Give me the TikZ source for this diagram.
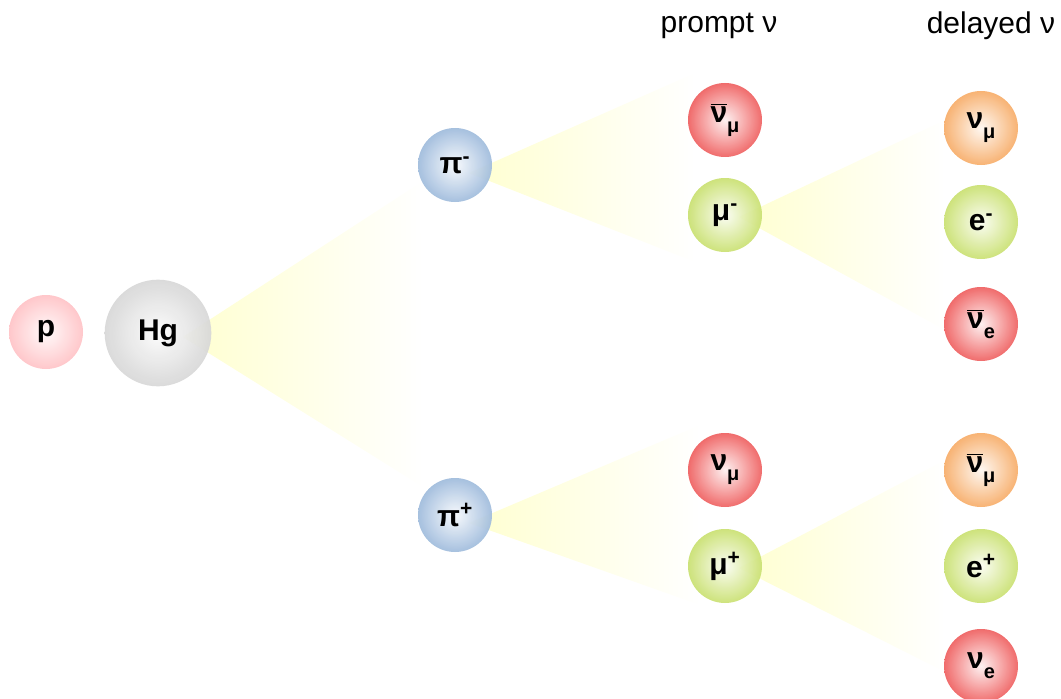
\documentclass[tikz,border=0pt]{standalone}
\usepackage{fontspec}
\setmainfont{Liberation Sans}
\usetikzlibrary{backgrounds}

\definecolor{protonPink}{HTML}{FFB8BC}
\definecolor{mercuryGrey}{HTML}{D0D0D0}
\definecolor{pionBlue}{HTML}{8EAFD6}
\definecolor{nuRed}{HTML}{EC4444}
\definecolor{nuOrange}{HTML}{F69E4E}
\definecolor{leptonGreen}{HTML}{C0DB58}
\definecolor{coneYellow}{HTML}{FFFFD0}
\colorlet{ringIn}{white}
\colorlet{ringOut}{gray}
\colorlet{ringRim}{gray}

\pgfdeclareradialshading[ringIn,ringOut,ringRim]{glow}{\pgfpoint{0bp}{0bp}}{color(0bp)=(ringIn); color(30bp)=(ringOut); color(45bp)=(ringOut); color(50bp)=(ringRim)}

\newcommand{\anti}[1]{\ensuremath{\overline{\hbox{#1}}}}
\newcommand{\lowidx}[1]{\raisebox{-0.34em}{\fontsize{15}{15}\selectfont #1}}

\tikzset{
  particle/.style={circle, minimum size=55.5pt, inner sep=0pt, fill opacity=0.93, text opacity=1,
    font=\fontsize{22.5}{27}\selectfont\bfseries},
  nucleus/.style={particle, minimum size=80pt},
  ballcol/.code={\colorlet{ringIn}{#1!8!white}\colorlet{ringOut}{#1}\colorlet{ringRim}{#1!80!white}\tikzset{shade, shading=glow}},
  cone/.style={left color=coneYellow, right color=white, draw=none},
  column/.style={font=\fontsize{22.5}{27}\selectfont},
}

\begin{document}
\begin{tikzpicture}[x=0.75pt,y=0.75pt,yscale=-1,xscale=1]
\useasboundingbox (0,0) rectangle (1061,699);

% Text Node
\node[column] (promptHead) at (719,26) {prompt ν};
% Text Node
\node[column] (delayedHead) at (991,26) {delayed ν};

%Shape: target
\node[particle, ballcol=protonPink] (p) at (46,332) {p};
\node[nucleus, ballcol=mercuryGrey] (Hg) at (158,333) {Hg};

%Shape: pions
\node[particle, ballcol=pionBlue] (pim) at (455,165) {π\textsuperscript{-}};
\node[particle, ballcol=pionBlue] (pip) at (455,515) {π\textsuperscript{+}};

%Shape: prompt column
\node[particle, ballcol=nuRed] (nbmu) at (725,120) {\anti{ν}\lowidx{μ}};
\node[particle, ballcol=leptonGreen] (mum) at (725,215) {μ\textsuperscript{-}};
\node[particle, ballcol=nuRed] (numu) at (725,470) {ν\lowidx{μ}};
\node[particle, ballcol=leptonGreen] (mup) at (725,566) {μ\textsuperscript{+}};

%Shape: delayed column
\node[particle, ballcol=nuOrange] (numud) at (981,128) {ν\lowidx{μ}};
\node[particle, ballcol=leptonGreen] (em) at (981,222) {e\textsuperscript{-}};
\node[particle, ballcol=nuRed] (nbe) at (981,324) {\anti{ν}\lowidx{e}};
\node[particle, ballcol=nuOrange] (nbmud) at (981,470) {\anti{ν}\lowidx{μ}};
\node[particle, ballcol=leptonGreen] (ep) at (981,566) {e\textsuperscript{+}};
\node[particle, ballcol=nuRed] (nue) at (981,666) {ν\lowidx{e}};

%Shape: decay cones
\begin{scope}[on background layer]
\shade[cone] ([shift={(25,4)}]Hg.center) -- (420,183) -- (423,487) -- cycle;
\shade[cone] ([shift={(14,8)}]pim.center) -- (695,73) -- (695,262) -- cycle;
\shade[cone] ([shift={(14,8)}]pip.center) -- (700,425) -- (700,605) -- cycle;
\shade[cone] ([shift={(14,2)}]mum.center) -- (945,120) -- (945,330) -- cycle;
\shade[cone] ([shift={(14,2)}]mup.center) -- (945,460) -- (945,672) -- cycle;
\end{scope}

\end{tikzpicture}
\end{document}
